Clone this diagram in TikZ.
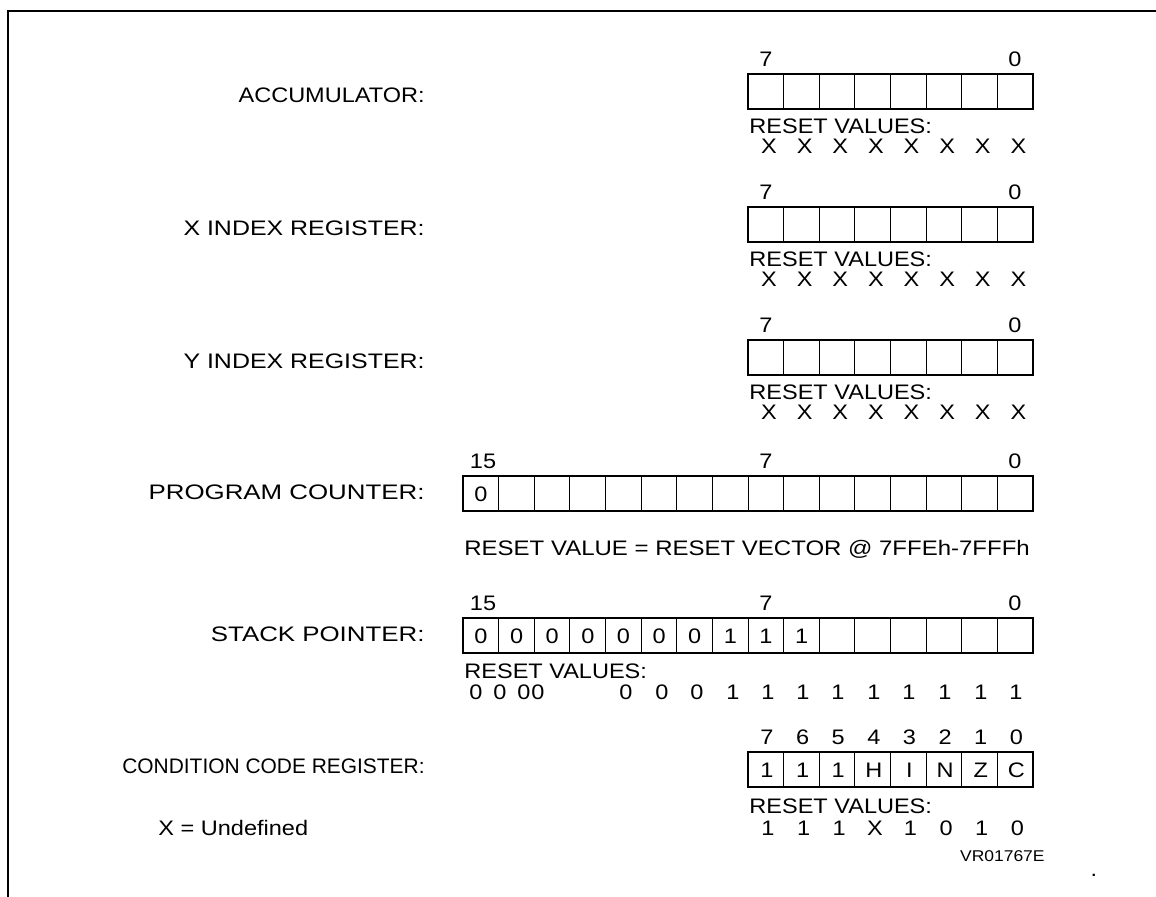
\documentclass[tikz,border=0pt]{standalone}
\usepackage{fontspec}
\setmainfont[FakeStretch=1.12]{Liberation Sans}
\begin{document}
\begin{tikzpicture}[x=0.5pt,y=-0.5pt,
  every node/.style={inner sep=0pt, text depth=0pt, font=\fontsize{10.5}{12}\selectfont},
  lbl/.style={anchor=east},
  txt/.style={anchor=west},
  regbox/.style={draw, line width=0.7pt},
  celline/.style={line width=0.45pt}]
\useasboundingbox (0,0) rectangle (1156,897);
% frame
\draw[line width=1pt] (8,897) -- (8,11) -- (1156,11);

% 8 bit registers
\foreach \reg/\name/\top/\sx in {acc/ACCUMULATOR:/74/1, xr/X INDEX REGISTER:/207/1.06, yr/Y INDEX REGISTER:/340/1.06} {
  \node[lbl, xscale=\sx] (\reg lbl) at (425,\top+21) {\name};
  \draw[regbox] (748,\top) rectangle (1033,\top+35);
  \foreach \k in {1,...,7} \draw[celline] ({748+35.625*\k},\top) -- ++(0,35);
  \node (\reg hi) at (766,\top-15) {7};
  \node (\reg lo) at (1015,\top-15) {0};
  \node[txt] (\reg rst) at (749,\top+52) {RESET VALUES:};
  \foreach \k in {0,...,7} \node (\reg x\k) at ({769+35.625*\k},\top+72) {X};
}

% program counter
\node[lbl, xscale=1.1] (pclbl) at (425,492) {PROGRAM COUNTER:};
\draw[regbox] (463,476) rectangle (1033,511);
\foreach \k in {1,...,15} \draw[celline] ({463+35.625*\k},476) -- ++(0,35);
\node (pchi) at (483,461) {15};
\node (pcmid) at (766,461) {7};
\node (pclo) at (1015,461) {0};
\node (pcb15) at (481,494) {0};
\node[txt, xscale=1.02] (pcrst) at (464,548) {RESET VALUE = RESET VECTOR @ 7FFEh-7FFFh};

% stack pointer
\node[lbl, xscale=1.1] (splbl) at (425,634) {STACK POINTER:};
\draw[regbox] (463,618) rectangle (1033,653);
\foreach \k in {1,...,15} \draw[celline] ({463+35.625*\k},618) -- ++(0,35);
\node (sphi) at (483,603) {15};
\node (spmid) at (766,603) {7};
\node (splo) at (1015,603) {0};
\foreach \v [count=\k from 0] in {0,0,0,0,0,0,0,1,1,1}
  \node (spb\k) at ({481+35.625*\k},636) {\v};
\node[txt] (sprst) at (464,671) {RESET VALUES:};
\foreach \v/\xp [count=\k] in {0/476,0/500,0/524,0/538,0/626,0/662,0/697,1/733,1/768,1/803,1/838,1/874,1/909,1/945,1/981,1/1016}
  \node (spv\k) at (\xp,692) {\v};

% condition code register
\node[lbl, xscale=0.89] (cclbl) at (425,766) {CONDITION CODE REGISTER:};
\draw[regbox] (748,752) rectangle (1033,787);
\foreach \k in {1,...,7} \draw[celline] ({748+35.625*\k},752) -- ++(0,35);
\foreach \n [count=\k from 0] in {7,6,5,4,3,2,1,0}
  \node (ccn\k) at ({767+35.625*\k},737) {\n};
\foreach \f [count=\k from 0] in {1,1,1,H,I,N,Z,C}
  \node (ccf\k) at ({767+35.625*\k},770) {\f};
\node[txt] (ccrst) at (749,806) {RESET VALUES:};
\foreach \v [count=\k from 0] in {1,1,1,X,1,0,1,0}
  \node (ccv\k) at ({768+35.625*\k},828) {\v};

\node[txt] (undef) at (158,828) {X = Undefined};
\node[anchor=east, font=\fontsize{7.8}{9}\selectfont] (figid) at (1045,856) {VR01767E};
\node (dot) at (1094,875) {.};
\end{tikzpicture}
\end{document}
